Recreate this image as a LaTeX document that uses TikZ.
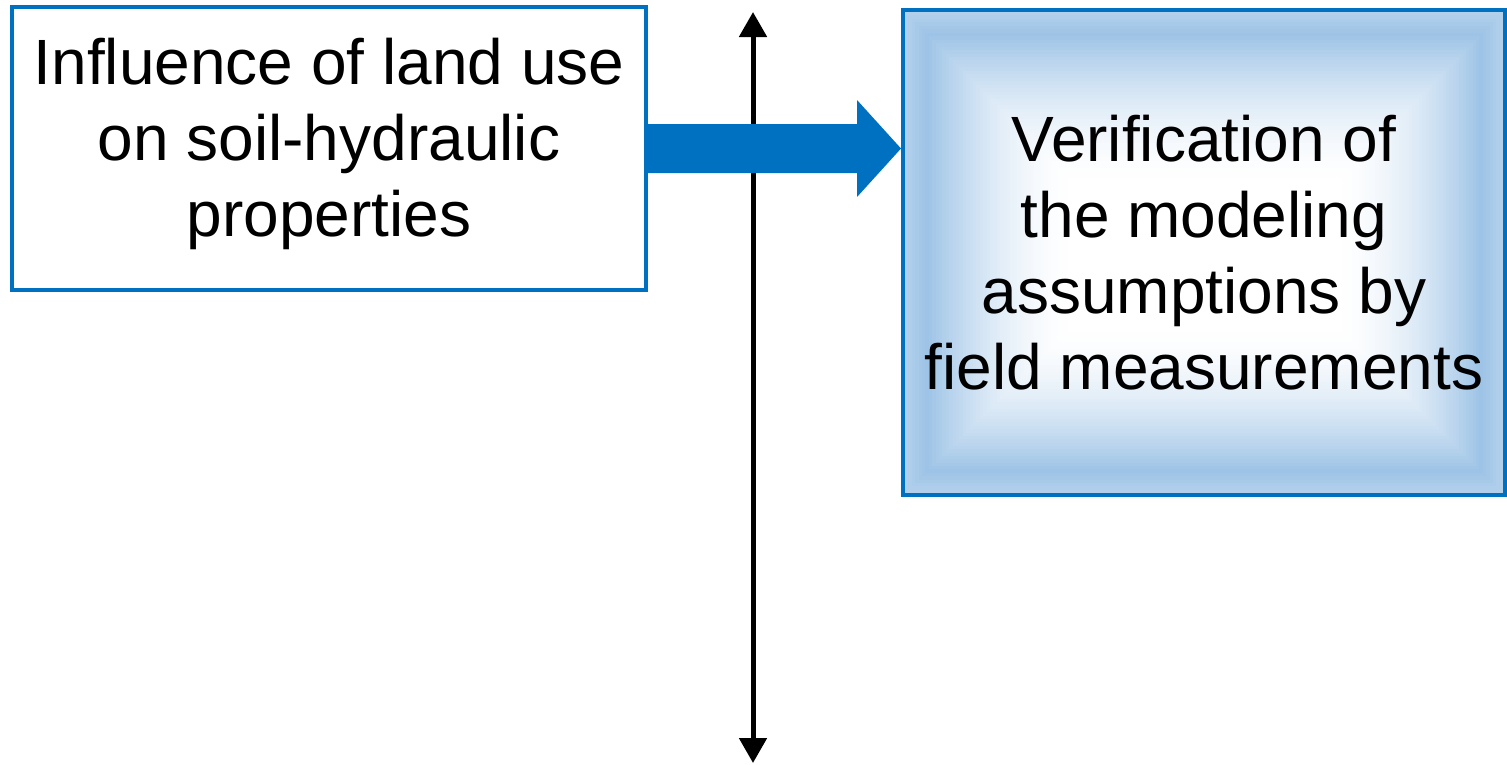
\documentclass[tikz,border=0pt]{standalone}
\usepackage{fontspec}
\setmainfont{Liberation Sans}
\usetikzlibrary{arrows.meta,calc}
\definecolor{boxblue}{RGB}{0,112,192}
\definecolor{lightb}{RGB}{157,195,230}
\begin{document}
\begin{tikzpicture}[x=1pt,y=-1pt,
  boxstyle/.style={draw=boxblue,line width=4pt,align=center,inner sep=0pt,
    font=\fontsize{64}{76}\selectfont},
  textstyle/.style={align=center,inner sep=0pt,font=\fontsize{64}{76}\selectfont},
  axisline/.style={line width=5pt,{Triangle[length=25pt,width=27pt]}-{Triangle[length=25pt,width=27pt]}}]
\useasboundingbox (0,0) rectangle (1507,764);
% gradient fill of right box
\foreach \i in {0,...,50}{
  \pgfmathsetmacro{\t}{\i/50}
  \pgfmathsetmacro{\p}{\t<0.12 ? 78+22*\t/0.12 : 100*((1-\t)/0.88)^1.8}
  \pgfmathsetmacro{\xa}{905+\t*(1075-905)}
  \pgfmathsetmacro{\xb}{1503-\t*(1503-1335)}
  \pgfmathsetmacro{\ya}{12+\t*(185-12)}
  \pgfmathsetmacro{\yb}{493-\t*(493-325)}
  \fill[lightb!\p!white] (\xa,\ya) rectangle (\xb,\yb);
}
\node[draw=boxblue,line width=4pt,minimum width=634pt,minimum height=283pt] (L) at (329,148.5) {};
\node[textstyle] (Lt) at ($(L.center)+(0,-5)$)
  {Influence of land use\\on soil-hydraulic\\properties};
\node[boxstyle,minimum width=602pt,minimum height=485pt] (R) at (1204,252.5)
  {Verification of\\the modeling\\assumptions by\\field measurements};
\coordinate (top) at (753,12);
\coordinate (bot) at (753,763);
\draw[axisline] (bot) -- (top);
\fill[boxblue] ($(L.east)+(0,-24.5)$) -- ($(L.east)+(209,-24.5)$) -- ($(L.east)+(209,-48.5)$)
  -- (R.west |- L.east) -- ($(L.east)+(209,48.5)$) -- ($(L.east)+(209,24.5)$)
  -- ($(L.east)+(0,24.5)$) -- cycle;
\end{tikzpicture}
\end{document}
